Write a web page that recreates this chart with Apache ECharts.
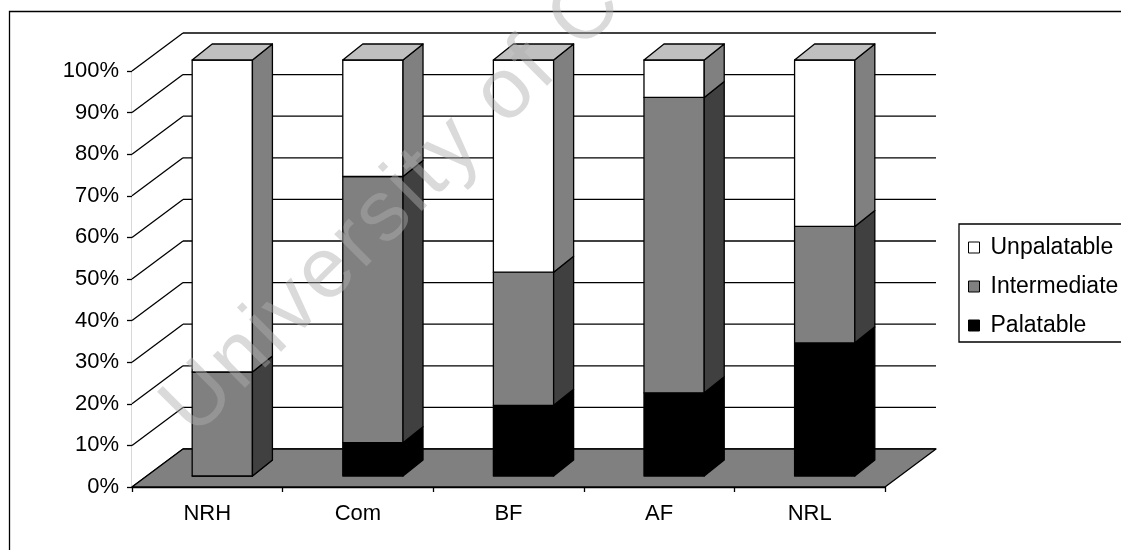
<!DOCTYPE html>
<html>
<head>
<meta charset="utf-8">
<script src="https://cdn.jsdelivr.net/npm/echarts@6/dist/echarts.min.js"></script>
<style>
  html, body { margin: 0; padding: 0; background: #ffffff; }
  #chart { width: 1121px; height: 550px; }
</style>
</head>
<body>
<div id="chart"></div>
<script>
// Share of plant species by palatability class at each site (percent)
const categories = ['NRH', 'Com', 'BF', 'AF', 'NRL'];
const palatable = [0, 8, 17, 20, 32];
const intermediate = [25, 64, 32, 71, 28];
const unpalatable = [75, 28, 51, 9, 40];
const tickValues = [0, 10, 20, 30, 40, 50, 60, 70, 80, 90, 100];
const seriesNames = ['Palatable', 'Intermediate', 'Unpalatable'];

// Pseudo-3D projection: depth offsets in pixels
const WALL = [51, -38];        // front plane -> back wall
const BAR_FRONT = [15, -11];   // front plane -> bar front face
const BAR_BACK = [35, -27];    // front plane -> bar back face
const BAR_RATIO = 0.4;         // bar width as share of category band
const LINE_W = 1.3;
const FONT = '"Liberation Sans", Arial, sans-serif';

// 100% stacking: convert to percent and build [cat, lo, hi] triples
const stacks = [palatable, intermediate, unpalatable];
const totals = categories.map((_, i) => stacks.reduce((s, arr) => s + arr[i], 0));
const segData = stacks.map(() => []);
categories.forEach((_, i) => {
  let acc = 0;
  stacks.forEach((arr, k) => {
    const share = arr[i] / totals[i] * 100;
    segData[k].push([i, acc, acc + share]);
    acc += share;
  });
});

const faceColors = [
  { front: '#000000', side: '#000000', top: '#303030', legend: '#000000' },
  { front: '#808080', side: '#404040', top: '#a0a0a0', legend: '#808080' },
  { front: '#ffffff', side: '#808080', top: '#c0c0c0', legend: '#ffffff' }
];

function faceStyle(fill) {
  return { fill: fill, stroke: '#000000', lineWidth: LINE_W, lineJoin: 'round' };
}

function segmentRenderer(colors, drawTop) {
  return function (params, api) {
    const ci = api.value(0);
    const pLo = api.coord([ci, api.value(1)]);
    const pHi = api.coord([ci, api.value(2)]);
    const half = api.size([1, 0])[0] * BAR_RATIO / 2;
    const xl = pLo[0] + BAR_FRONT[0] - half;
    const xr = pLo[0] + BAR_FRONT[0] + half;
    const yb = pLo[1] + BAR_FRONT[1];
    const yt = pHi[1] + BAR_FRONT[1];
    const dx = BAR_BACK[0] - BAR_FRONT[0];
    const dy = BAR_BACK[1] - BAR_FRONT[1];
    const children = [
      { type: 'polygon', shape: { points: [[xl, yb], [xr, yb], [xr, yt], [xl, yt]] }, style: faceStyle(colors.front) },
      { type: 'polygon', shape: { points: [[xr, yb], [xr + dx, yb + dy], [xr + dx, yt + dy], [xr, yt]] }, style: faceStyle(colors.side) }
    ];
    if (drawTop) {
      children.push({ type: 'polygon', shape: { points: [[xl, yt], [xr, yt], [xr + dx, yt + dy], [xl + dx, yt + dy]] }, style: faceStyle(colors.top) });
    }
    return { type: 'group', children: children };
  };
}

// Walls: left side wall and back wall
function wallsRenderer(params, api) {
  const cs = params.coordSys;
  const x0 = cs.x, x1 = cs.x + cs.width;
  const yTop = api.coord([0, 100])[1], yBot = api.coord([0, 0])[1];
  return {
    type: 'group',
    children: [
      { type: 'polygon', shape: { points: [[x0, yBot], [x0, yTop], [x0 + WALL[0], yTop + WALL[1]], [x0 + WALL[0], yBot + WALL[1]]] }, style: { fill: '#ffffff' } },
      { type: 'rect', shape: { x: x0 + WALL[0], y: yTop + WALL[1], width: x1 - x0, height: yBot - yTop }, style: { fill: '#ffffff' } }
    ]
  };
}

// Gridlines: diagonal on the side wall, horizontal on the back wall
function gridRenderer(params, api) {
  const cs = params.coordSys;
  const x0 = cs.x, x1 = cs.x + cs.width;
  const y = api.coord([0, api.value(0)])[1];
  const ls = { stroke: '#000000', lineWidth: LINE_W };
  return {
    type: 'group',
    children: [
      { type: 'line', shape: { x1: x0, y1: y, x2: x0 + WALL[0], y2: y + WALL[1] }, style: ls },
      { type: 'line', shape: { x1: x0 + WALL[0], y1: y + WALL[1], x2: x1 + WALL[0], y2: y + WALL[1] }, style: ls }
    ]
  };
}

function floorRenderer(params, api) {
  const cs = params.coordSys;
  const x0 = cs.x, x1 = cs.x + cs.width;
  const y = api.coord([0, 0])[1];
  return {
    type: 'polygon',
    shape: { points: [[x0, y], [x1, y], [x1 + WALL[0], y + WALL[1]], [x0 + WALL[0], y + WALL[1]]] },
    style: { fill: '#808080', stroke: '#000000', lineWidth: LINE_W, lineJoin: 'round' }
  };
}

// Faint diagonal watermark, letters placed one by one
const WATERMARK = 'University of Cape Town';
function watermarkElements() {
  const size = 86, angle = 45 * Math.PI / 180, spacing = 3.5;
  const ctx = document.createElement('canvas').getContext('2d');
  ctx.font = size + 'px "Liberation Sans"';
  const ox = 208, oy = 452;
  const els = [];
  let d = 0;
  for (const ch of WATERMARK) {
    els.push({
      type: 'text',
      x: ox + d * Math.cos(angle),
      y: oy - d * Math.sin(angle),
      rotation: angle,
      silent: true,
      z: 100,
      style: {
        text: ch,
        fontSize: size,
        fontFamily: '"Liberation Sans"',
        fill: 'rgba(175,175,175,0.46)',
        align: 'left', verticalAlign: 'bottom',
        textAlign: 'left', textVerticalAlign: 'bottom'
      }
    });
    d += ctx.measureText(ch).width + spacing;
  }
  return els;
}

const chart = echarts.init(document.getElementById('chart'), null, { renderer: 'canvas' });

const series = [
  { type: 'custom', name: 'walls', renderItem: wallsRenderer, data: [[0]], z: 1, silent: true, animation: false },
  { type: 'custom', name: 'gridlines', renderItem: gridRenderer, data: tickValues.map(v => [v]), z: 1, silent: true, animation: false },
  { type: 'custom', name: 'floor', renderItem: floorRenderer, data: [[0]], z: 1, silent: true, animation: false }
];
seriesNames.forEach((name, k) => {
  series.push({
    type: 'custom',
    name: name,
    renderItem: segmentRenderer(faceColors[k], k === seriesNames.length - 1),
    data: segData[k],
    encode: { x: 0, y: [1, 2] },
    itemStyle: { color: faceColors[k].legend },
    z: 2,
    animation: false
  });
});

chart.setOption({
  animation: false,
  backgroundColor: '#ffffff',
  grid: { left: 132, top: 71, width: 753, height: 416, containLabel: false },
  xAxis: {
    type: 'category',
    data: categories,
    boundaryGap: true,
    axisLine: { show: true, lineStyle: { color: '#000000', width: LINE_W } },
    axisTick: { show: true, length: 5, alignWithLabel: false, lineStyle: { color: '#000000', width: LINE_W } },
    axisLabel: { color: '#000000', fontSize: 22, fontFamily: FONT, margin: 16 },
    splitLine: { show: false }
  },
  yAxis: {
    type: 'value',
    min: 0, max: 100, interval: 10,
    axisLine: { show: true, lineStyle: { color: '#000000', width: LINE_W } },
    axisTick: { show: true, length: 5, lineStyle: { color: '#000000', width: LINE_W } },
    axisLabel: { color: '#000000', fontSize: 22, fontFamily: FONT, margin: 13, padding: [4, 0, 0, 0], formatter: '{value}%' },
    splitLine: { show: false }
  },
  legend: {
    data: ['Unpalatable', 'Intermediate', 'Palatable'],
    orient: 'vertical',
    left: 959, top: 224,
    icon: 'rect',
    itemWidth: 11, itemHeight: 11, itemGap: 16,
    padding: [12, 40, 5, 9],
    borderColor: '#000000', borderWidth: LINE_W,
    itemStyle: { borderColor: '#000000', borderWidth: 1 },
    textStyle: { color: '#000000', fontSize: 23, fontFamily: FONT, lineHeight: 22, padding: [0, 0, 0, 6] },
    selectedMode: false
  },
  graphic: [
    {
      type: 'rect', silent: true, z: 0,
      shape: { x: 9.5, y: 11.5, width: 1200, height: 600 },
      style: { fill: 'none', stroke: '#000000', lineWidth: LINE_W }
    }
  ].concat(watermarkElements()),
  series: series
});
</script>
</body>
</html>
